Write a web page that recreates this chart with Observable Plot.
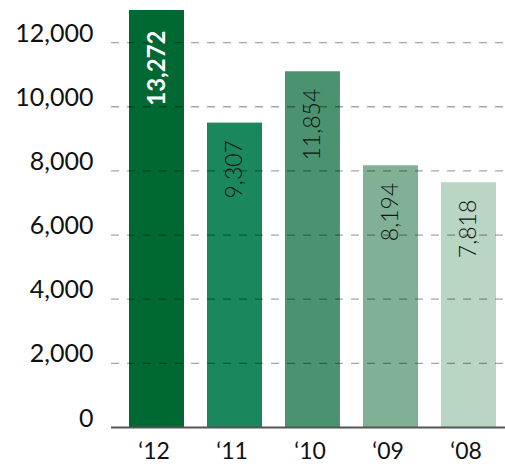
<!DOCTYPE html>
<html>
<head>
<meta charset="utf-8">
<script src="https://cdn.jsdelivr.net/npm/d3@7"></script>
<script src="https://cdn.jsdelivr.net/npm/@observablehq/plot@0.6"></script>
<style>
  html, body { margin: 0; padding: 0; background: #fff; }
</style>
</head>
<body>
<div id="chart"></div>
<script>
const years = ["\u201812", "\u201811", "\u201810", "\u201809", "\u201808"];
const heights = [13000, 9490, 11090, 8160, 7630];
const labels = ["13,272", "9,307", "11,854", "8,194", "7,818"];
const colors = ["#006833", "#1b875c", "#4b9370", "#80b194", "#b9d5c4"];
const yTicks = [0, 2000, 4000, 6000, 8000, 10000, 12000];

const data = years.map((y, i) => ({year: y, h: heights[i], label: labels[i], color: colors[i], first: i === 0}));

const chart = Plot.plot({
  width: 505,
  height: 466,
  marginLeft: 111,
  marginRight: 0,
  marginTop: 10,
  marginBottom: 39,
  style: {fontFamily: "Lato, sans-serif", background: "#fff", color: "#111"},
  x: {domain: years, range: [117, 507], paddingInner: 0.295, paddingOuter: 0.1475, label: null},
  y: {domain: [0, 13000], label: null},
  color: {type: "identity"},
  marks: [
    Plot.barY(data, {x: "year", y: "h", fill: "color"}),
    Plot.ruleY(yTicks.slice(1), {stroke: "#000", strokeOpacity: 0.35, strokeWidth: 1.3, strokeDasharray: "8,8"}),
    Plot.ruleY([0], {stroke: "#555", strokeWidth: 2}),
    Plot.text(data.filter(d => d.first), {x: "year", y: "h", text: "label", rotate: -90, textAnchor: "end", dy: 20, fill: "#fff", fontSize: 24, fontWeight: 700}),
    Plot.text(data.filter(d => !d.first), {x: "year", y: "h", text: "label", rotate: -90, textAnchor: "end", dy: 17, fill: "#111", fontSize: 23, fontWeight: 300}),
    Plot.axisY({ticks: yTicks, tickSize: 0, tickPadding: 18, tickFormat: d3.format(","), fontSize: 25, dy: -9, label: null}),
    Plot.axisX({tickSize: 0, tickPadding: 15, fontSize: 23, dx: -3, label: null})
  ]
});
document.getElementById("chart").appendChild(chart);
</script>
</body>
</html>
